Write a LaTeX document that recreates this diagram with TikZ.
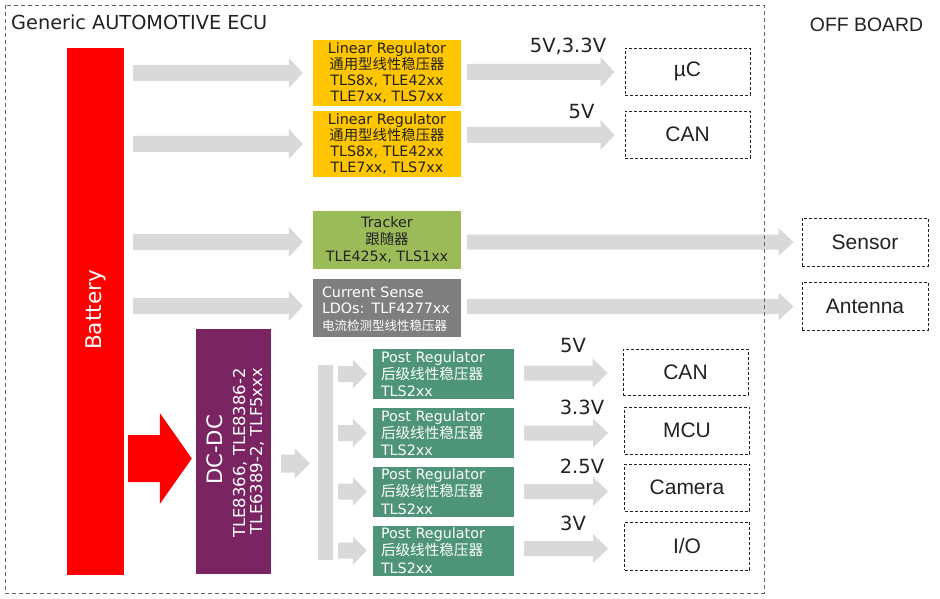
\documentclass[tikz,border=0pt]{standalone}
\usepackage{fontspec}
\setmainfont{DejaVu Sans}
\newfontfamily\arialf{Liberation Sans}
\newfontfamily\cjkf{Noto Sans CJK SC}
\usetikzlibrary{calc}

\definecolor{agray}{HTML}{D9D9D9}
\definecolor{batred}{HTML}{FF0000}
\definecolor{lryel}{HTML}{FFC600}
\definecolor{trkgreen}{HTML}{9BBB59}
\definecolor{csgray}{HTML}{7F7F7F}
\definecolor{dcpurple}{HTML}{7B2462}
\definecolor{prteal}{HTML}{4E9479}
\definecolor{txtdark}{HTML}{222222}

% block arrow: colour, start, end, shaft width, head width, head length
\newcommand\blockarrow[6]{%
  \fill[#1] let \p1=#2, \p2=#3 in
    (\x1,\y1+#4/2) -- (\x2-#6,\y1+#4/2) -- (\x2-#6,\y1+#5/2) -- (\x2,\y1)
    -- (\x2-#6,\y1-#5/2) -- (\x2-#6,\y1-#4/2) -- (\x1,\y1-#4/2) -- cycle;}

\begin{document}
\begin{tikzpicture}[x=1pt,y=-1pt,
  box/.style={rectangle, draw=none, inner sep=0pt},
  lrbox/.style={box, fill=lryel, minimum width=148pt, minimum height=66pt, align=center,
    text=txtdark, font=\fontsize{14.3}{16}\selectfont},
  trkbox/.style={box, fill=trkgreen, minimum width=148pt, minimum height=58pt, align=center,
    text=txtdark, font=\fontsize{14.3}{17}\selectfont},
  csbox/.style={box, fill=csgray, text width=130pt, inner xsep=9pt, minimum height=58pt, align=left,
    text=white, font=\fontsize{14.3}{16.5}\selectfont},
  prbox/.style={box, fill=prteal, text width=125pt, inner xsep=8pt, minimum height=50pt, align=left,
    text=white, font=\fontsize{14.3}{17.3}\selectfont},
  outbox/.style={rectangle, draw=txtdark, line width=0.9pt, dash pattern=on 3pt off 2pt,
    minimum width=125pt, minimum height=47pt, inner sep=0pt, text=txtdark,
    font=\arialf\fontsize{21}{24}\selectfont},
  vlabel/.style={inner sep=0pt, text=txtdark, font=\fontsize{19.5}{22}\selectfont},
]
\useasboundingbox (0,0) rectangle (940,599);
\fill[white] (0,0) rectangle (940,599);

% ---------- boxes ----------
\node[box, fill=batred, minimum width=57pt, minimum height=527pt] (bat) at (95.5,311.5) {};
\node[inner sep=0pt, rotate=90, text=white, font=\fontsize{21.6}{24}\selectfont] (battxt) at (96,310) {Battery};

\node[lrbox] (lr1) at (387,73) {Linear Regulator\\{\cjkf\fontsize{14.4}{16}\selectfont 通用型线性稳压器}\\TLS8x, TLE42xx\\TLE7xx, TLS7xx};
\node[lrbox] (lr2) at (387,144) {Linear Regulator\\{\cjkf\fontsize{14.4}{16}\selectfont 通用型线性稳压器}\\TLS8x, TLE42xx\\TLE7xx, TLS7xx};
\node[trkbox] (trk) at (387,239.5) {Tracker\\{\cjkf\fontsize{14.4}{16}\selectfont 跟随器}\\TLE425x, TLS1xx};
\node[csbox] (cs) at (387,308) {\vphantom{Ag}\\[-14pt]Current Sense\\LDOs: TLF4277xx\\{\cjkf\fontsize{12.5}{16}\selectfont 电流检测型线性稳压器}};

\node[outbox] (uc) at (687.5,71.5) {µC};
\node[outbox] (can1) at (687.5,134.5) {CAN};
\node[outbox, minimum width=126pt, minimum height=48pt] (sensor) at (865,242) {Sensor};
\node[outbox, minimum width=126pt, minimum height=48pt] (antenna) at (865,306) {Antenna};

\node[box, fill=dcpurple, minimum width=75pt, minimum height=245pt] (dc) at (233.5,451.5) {};
\node[inner sep=0pt, rotate=90, text=white, font=\fontsize{21.2}{24}\selectfont] (dct1) at (215,450) {DC-DC};
\node[inner sep=0pt, rotate=90, text=white, font=\fontsize{16.4}{18}\selectfont] (dct2) at (240,453) {TLE8366, TLE8386-2};
\node[inner sep=0pt, rotate=90, text=white, font=\fontsize{16.4}{18}\selectfont] (dct3) at (257,451) {TLE6389-2, TLF5xxx};

\node[box, fill=agray, minimum width=15pt, minimum height=195pt] (bus) at (325.5,462.5) {};

\node[prbox] (pr1) at (443.5,374) {Post Regulator\\{\cjkf\fontsize{14.6}{16}\selectfont 后级线性稳压器}\\TLS2xx};
\node[prbox] (pr2) at (443.5,433) {Post Regulator\\{\cjkf\fontsize{14.6}{16}\selectfont 后级线性稳压器}\\TLS2xx};
\node[prbox] (pr3) at (443.5,491.5) {Post Regulator\\{\cjkf\fontsize{14.6}{16}\selectfont 后级线性稳压器}\\TLS2xx};
\node[prbox] (pr4) at (443.5,550.5) {Post Regulator\\{\cjkf\fontsize{14.6}{16}\selectfont 后级线性稳压器}\\TLS2xx};

\node[outbox, minimum height=46pt] (can2) at (685.5,372) {CAN};
\node[outbox] (mcu) at (687,430.5) {MCU};
\node[outbox] (cam) at (687,487.5) {Camera};
\node[outbox, minimum height=48pt] (io) at (687,546) {I/O};

% ---------- arrows ----------
\blockarrow{agray}{($(bat.east |- lr1.west)+(9,0)$)}{($(lr1.west)+(-10,0)$)}{16pt}{30pt}{14pt}
\blockarrow{agray}{($(bat.east |- lr2.west)+(9,0)$)}{($(lr2.west)+(-10,0)$)}{16pt}{30pt}{14pt}
\blockarrow{agray}{($(bat.east |- sensor.west)+(9,0)$)}{($(trk.west |- sensor.west)+(-10,0)$)}{16pt}{30pt}{14pt}
\blockarrow{agray}{($(bat.east |- antenna.west)+(9,0)$)}{($(cs.west |- antenna.west)+(-10,0)$)}{16pt}{30pt}{14pt}

\blockarrow{agray}{($(lr1.east |- uc.west)+(6,0.5)$)}{($(uc.west)+(-10,0.5)$)}{16pt}{30pt}{14pt}
\blockarrow{agray}{($(lr2.east |- can1.west)+(6,0.5)$)}{($(can1.west)+(-10,0.5)$)}{16pt}{30pt}{14pt}
\blockarrow{agray}{($(trk.east |- sensor.west)+(6,0)$)}{($(sensor.west)+(-8,0)$)}{15pt}{28pt}{15pt}
\blockarrow{agray}{($(cs.east |- antenna.west)+(6,0.5)$)}{($(antenna.west)+(-8,0.5)$)}{15pt}{28pt}{15pt}

\blockarrow{batred}{($(bat.east |- dc.west)+(4,7)$)}{($(dc.west)+(-4,7)$)}{47pt}{91pt}{32pt}
\blockarrow{agray}{($(dc.east)+(10,12)$)}{($(bus.west |- dc.east)+(-8,12)$)}{18pt}{30pt}{15pt}

\blockarrow{agray}{($(bus.east |- pr1.west)+(5,0)$)}{($(pr1.west)+(-6,0)$)}{16pt}{29pt}{14pt}
\blockarrow{agray}{($(bus.east |- pr2.west)+(5,0)$)}{($(pr2.west)+(-6,0)$)}{16pt}{29pt}{14pt}
\blockarrow{agray}{($(bus.east |- pr3.west)+(5,0)$)}{($(pr3.west)+(-6,0)$)}{16pt}{29pt}{14pt}
\blockarrow{agray}{($(bus.east |- pr4.west)+(5,0)$)}{($(pr4.west)+(-6,0)$)}{16pt}{29pt}{14pt}

\blockarrow{agray}{($(pr1.east)+(10,-1)$)}{($(can2.west |- pr1.east)+(-15,-1)$)}{15pt}{29pt}{15pt}
\blockarrow{agray}{($(pr2.east)+(10,0)$)}{($(mcu.west |- pr2.east)+(-16,0)$)}{15pt}{29pt}{15pt}
\blockarrow{agray}{($(pr3.east)+(10,0)$)}{($(cam.west |- pr3.east)+(-16,0)$)}{15pt}{29pt}{15pt}
\blockarrow{agray}{($(pr4.east)+(10,-2)$)}{($(io.west |- pr4.east)+(-16,-2)$)}{15pt}{29pt}{15pt}

% ---------- labels ----------
\node[vlabel] (v1) at (568,46) {5V,3.3V};
\node[vlabel] (v2) at (581.5,111.5) {5V};
\node[vlabel] (v3) at (573,346) {5V};
\node[vlabel] (v4) at (582,407) {3.3V};
\node[vlabel] (v5) at (582,466) {2.5V};
\node[vlabel] (v6) at (573,523) {3V};

% ---------- frame and titles ----------
\draw[draw=black!60, line width=0.8pt, dash pattern=on 4pt off 3pt] (5,5) rectangle (764,593);
\node[anchor=west, inner sep=0pt, text=txtdark, font=\fontsize{19.3}{22}\selectfont] (title) at (11,22) {Generic AUTOMOTIVE ECU};
\node[inner sep=0pt, text=txtdark, font=\arialf\fontsize{19.4}{22}\selectfont] (offb) at (866.5,25) {OFF BOARD};
\end{tikzpicture}
\end{document}
